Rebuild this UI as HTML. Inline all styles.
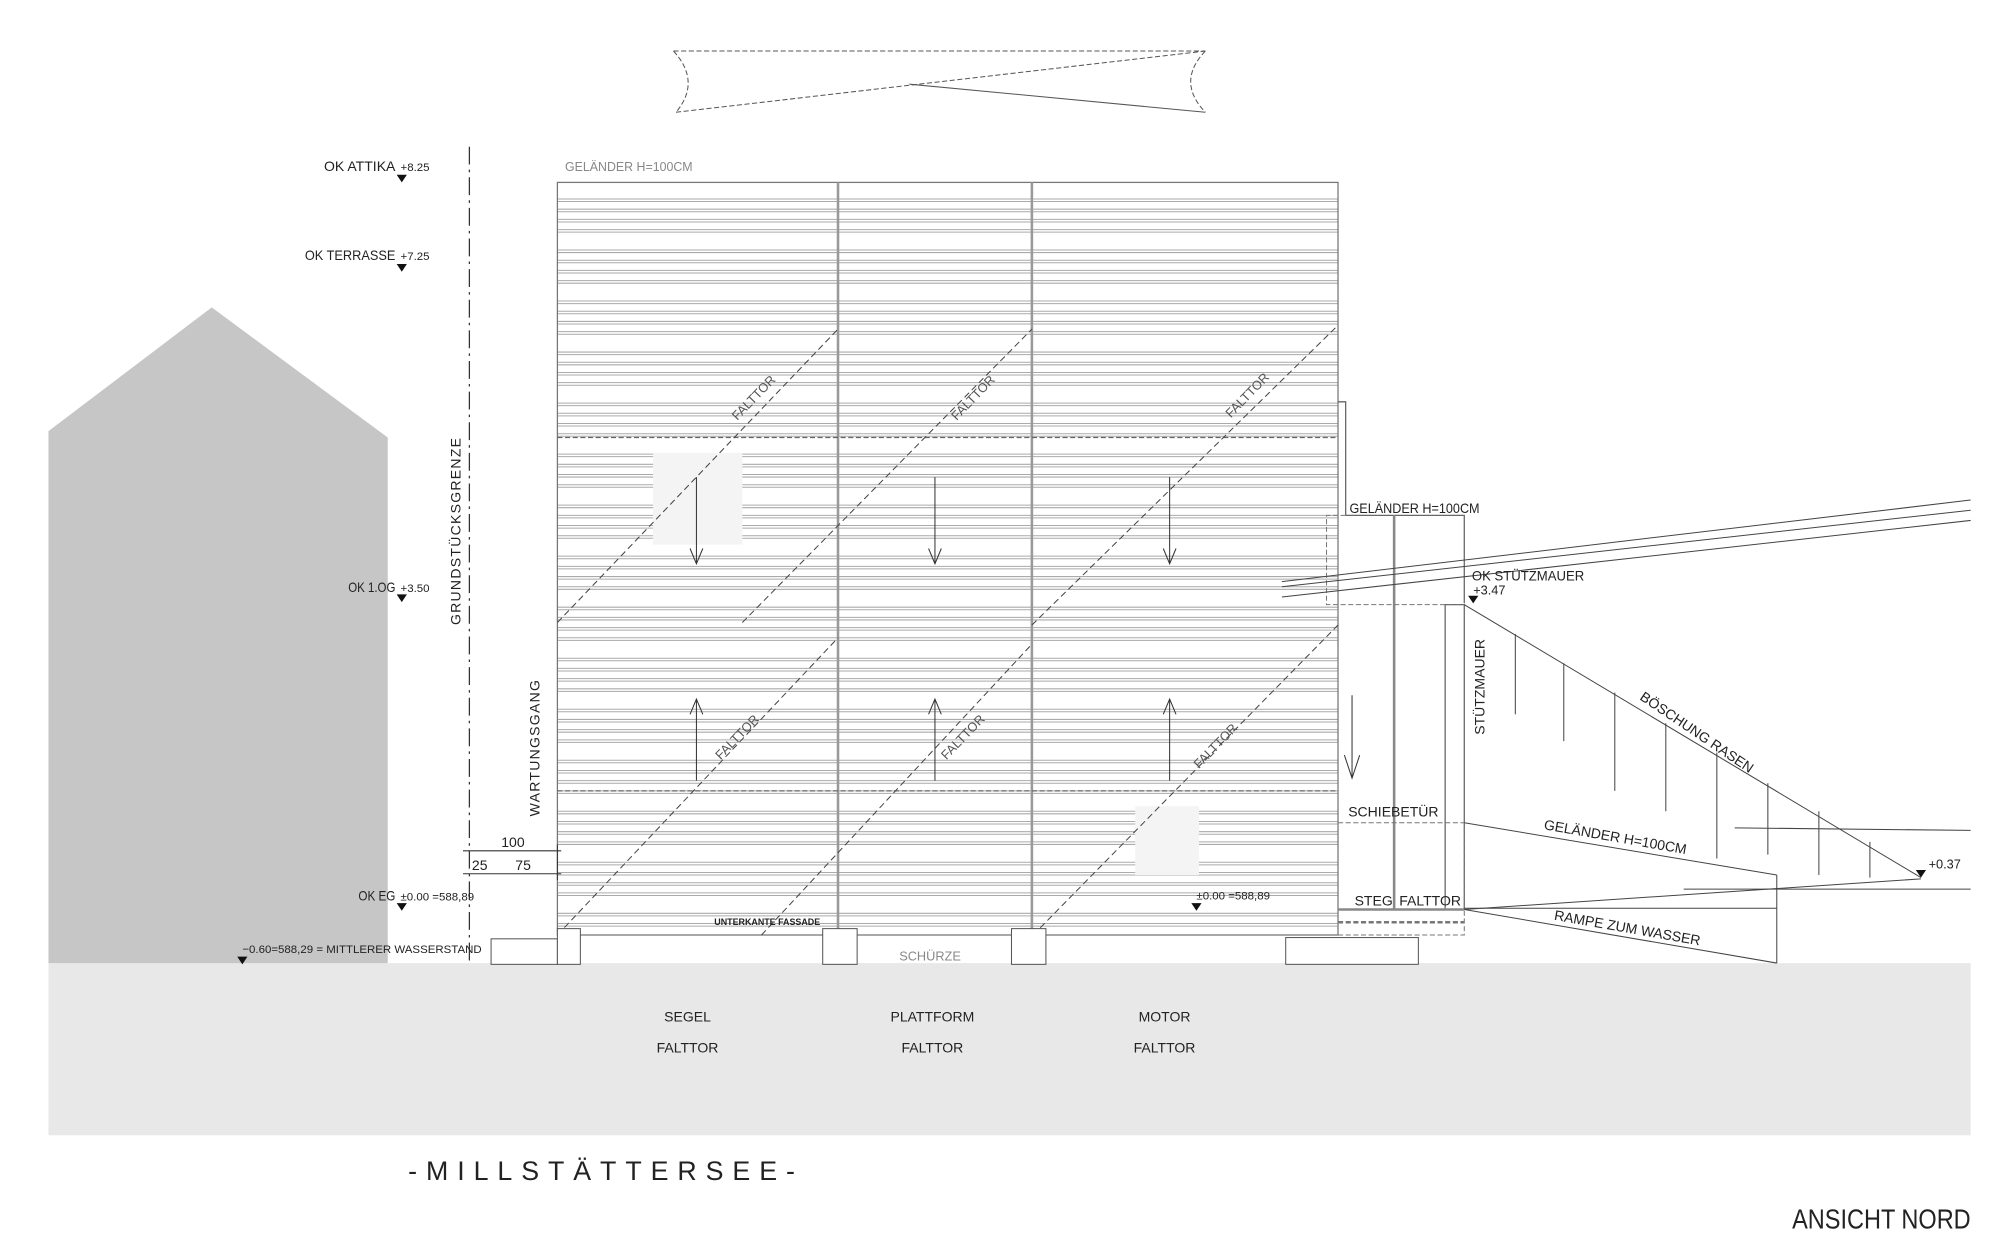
<!DOCTYPE html>
<html><head><meta charset="utf-8"><style>
html,body{margin:0;padding:0;background:#fff}
svg{display:block}
text{font-family:"Liberation Sans Narrow","Liberation Sans",sans-serif;fill:#222}
</style></head><body>
<svg id="s" width="2000" height="1259" viewBox="0 0 1568 987" preserveAspectRatio="none" xmlns="http://www.w3.org/2000/svg">
<rect width="1568" height="987" fill="#fff"/>
<rect x="38" y="755" width="1507" height="135" fill="#e8e8e8"/>
<polygon points="38,338 166,241 304,343 304,755 38,755" fill="#c6c6c6"/>
<line x1="368" y1="115" x2="368" y2="755" stroke="#333" stroke-width="1" stroke-dasharray="14,4,2,4"/>
<text x="361" y="490" font-size="11" transform="rotate(-90 361 490)" letter-spacing="1">GRUNDSTÜCKSGRENZE</text>
<text x="423" y="640" font-size="11" transform="rotate(-90 423 640)" letter-spacing="1">WARTUNGSGANG</text>

<g fill="none" stroke="#555" stroke-width="0.8" stroke-dasharray="4,2">
<line x1="528" y1="40" x2="945" y2="40"/>
<line x1="530" y1="88" x2="945" y2="40"/>
<path d="M528,40 Q550,64 530,88"/>
<path d="M945,40 Q922,64 945,88"/>
</g>
<line x1="713" y1="66" x2="945" y2="88" stroke="#555" stroke-width="0.8"/>

<text x="443" y="134" font-size="10" textLength="100" lengthAdjust="spacingAndGlyphs" style="fill:#888">GELÄNDER H=100CM</text>

<g id="fac"></g>
<rect x="437" y="143" width="612" height="590" fill="none" stroke="#777" stroke-width="1"/>
<line x1="657" y1="143" x2="657" y2="733" stroke="#999" stroke-width="2"/>
<line x1="809" y1="143" x2="809" y2="733" stroke="#999" stroke-width="2"/>
<line x1="437" y1="343" x2="1049" y2="343" stroke="#666" stroke-dasharray="4,2"/>
<line x1="437" y1="620" x2="1049" y2="620" stroke="#666" stroke-dasharray="4,2"/>
<rect x="512" y="355" width="70" height="72" fill="#f4f4f4"/>
<rect x="890" y="632" width="50" height="54" fill="#f4f4f4"/>

<g stroke="#444" stroke-width="0.8" stroke-dasharray="5,3" fill="none">
<line x1="437" y1="488" x2="657" y2="258"/>
<line x1="582" y1="488" x2="809" y2="258"/>
<line x1="809" y1="490" x2="1049" y2="255"/>
<line x1="437" y1="733" x2="657" y2="500"/>
<line x1="597" y1="733" x2="809" y2="505"/>
<line x1="810" y1="733" x2="1049" y2="490"/>
</g>
<g font-size="10">
<text x="578" y="330" transform="rotate(-46 578 330)" style="fill:#555">FALTTOR</text>
<text x="750" y="330" transform="rotate(-46 750 330)" style="fill:#555">FALTTOR</text>
<text x="965" y="328" transform="rotate(-46 965 328)" style="fill:#555">FALTTOR</text>
<text x="565" y="596" transform="rotate(-46 565 596)" style="fill:#555">FALTTOR</text>
<text x="742" y="596" transform="rotate(-46 742 596)" style="fill:#555">FALTTOR</text>
<text x="940" y="603" transform="rotate(-46 940 603)" style="fill:#555">FALTTOR</text>
</g>
<g stroke="#333" stroke-width="0.8" fill="none">
<path d="M546,374V442M541,430L546,442L551,430"/>
<path d="M733,374V442M728,430L733,442L738,430"/>
<path d="M917,374V442M912,430L917,442L922,430"/>
<path d="M546,612V548M541,560L546,548L551,560"/>
<path d="M733,612V548M728,560L733,548L738,560"/>
<path d="M917,612V548M912,560L917,548L922,560"/>
<path d="M1060,545V610M1054,592L1060,610L1066,592"/>
</g>

<g fill="#fff" stroke="#555" stroke-width="0.8">
<rect x="385" y="736" width="52" height="20"/>
<rect x="437" y="728" width="18" height="28"/>
<rect x="645" y="728" width="27" height="28"/>
<rect x="793" y="728" width="27" height="28"/>
<rect x="1008" y="735" width="104" height="21"/>
</g>
<text x="705" y="753" font-size="10" style="fill:#888">SCHÜRZE</text>
<text x="560" y="725" font-size="7" font-weight="bold">UNTERKANTE FASSADE</text>

<g stroke="#333" stroke-width="0.8">
<line x1="363" y1="667" x2="440" y2="667"/>
<line x1="363" y1="685" x2="440" y2="685"/>
<line x1="437" y1="662" x2="437" y2="690"/>
</g>
<text x="393" y="664" font-size="11">100</text>
<text x="370" y="682" font-size="11">25</text>
<text x="404" y="682" font-size="11">75</text>

<g font-size="11">
<text x="254" y="134" textLength="56" lengthAdjust="spacingAndGlyphs">OK ATTIKA</text><text x="314" y="134" font-size="9">+8.25</text>
<text x="239" y="204" textLength="71" lengthAdjust="spacingAndGlyphs">OK TERRASSE</text><text x="314" y="204" font-size="9">+7.25</text>
<text x="273" y="464" textLength="37" lengthAdjust="spacingAndGlyphs">OK 1.OG</text><text x="314" y="464" font-size="9">+3.50</text>
<text x="281" y="706" textLength="29" lengthAdjust="spacingAndGlyphs">OK EG</text><text x="314" y="706" font-size="9">±0.00 =588,89</text>
<text x="190" y="747" font-size="9">−0.60=588,29 = MITTLERER WASSERSTAND</text>
<text x="938" y="705" font-size="9">±0.00 =588,89</text>
</g>
<g fill="#111">
<polygon points="311,137 319,137 315,143"/>
<polygon points="311,207 319,207 315,213"/>
<polygon points="311,466 319,466 315,472"/>
<polygon points="311,708 319,708 315,714"/>
<polygon points="186,750 194,750 190,756"/>
<polygon points="934,708 942,708 938,714"/>
<polygon points="1151,467 1159,467 1155,473"/>
<polygon points="1502,682 1510,682 1506,688"/>
</g>

<g fill="none" stroke="#666" stroke-width="1">
<path d="M1049,315H1055V404"/>
<path d="M1055,404H1148V473"/>
<line x1="1093" y1="404" x2="1093" y2="713" stroke-width="2" stroke="#888"/>
<path d="M1133,713V474H1148V713"/>
<line x1="1049" y1="713" x2="1148" y2="713" stroke-width="2" stroke="#888"/>
</g>
<g fill="none" stroke="#777" stroke-width="0.8" stroke-dasharray="4,2">
<path d="M1055,404H1040V474H1148"/>
<path d="M1049,645H1148V733H1049"/>
<line x1="1049" y1="723" x2="1148" y2="723" stroke-width="2"/>
</g>
<g fill="none" stroke="#444" stroke-width="0.8">
<line x1="1005" y1="456" x2="1545" y2="392"/>
<line x1="1005" y1="460" x2="1545" y2="400"/>
<line x1="1005" y1="468" x2="1545" y2="408"/>
<line x1="1148" y1="474" x2="1506" y2="688"/>
<line x1="1148" y1="645" x2="1393" y2="686"/>
<line x1="1393" y1="686" x2="1393" y2="755"/>
<line x1="1148" y1="713" x2="1393" y2="755"/>
<line x1="1148" y1="713" x2="1506" y2="689"/>
<line x1="1148" y1="712" x2="1393" y2="712"/>
<line x1="1320" y1="697" x2="1545" y2="697"/>
<line x1="1360" y1="649" x2="1545" y2="651"/>
<line x1="1188" y1="497" x2="1188" y2="560"/>
<line x1="1226" y1="520" x2="1226" y2="581"/>
<line x1="1266" y1="543" x2="1266" y2="620"/>
<line x1="1306" y1="567" x2="1306" y2="636"/>
<line x1="1346" y1="590" x2="1346" y2="673"/>
<line x1="1386" y1="614" x2="1386" y2="670"/>
<line x1="1426" y1="636" x2="1426" y2="686"/>
<line x1="1466" y1="660" x2="1466" y2="688"/>
</g>
<g font-size="11">
<text x="1058" y="402" textLength="102" lengthAdjust="spacingAndGlyphs">GELÄNDER H=100CM</text>
<text x="1154" y="455" textLength="88" lengthAdjust="spacingAndGlyphs">OK STÜTZMAUER</text>
<text x="1155" y="466" font-size="10">+3.47</text>
<text x="1164" y="576" transform="rotate(-90 1164 576)">STÜTZMAUER</text>
<text x="1285" y="548" transform="rotate(34 1285 548)">BÖSCHUNG RASEN</text>
<text x="1210" y="650" transform="rotate(10 1210 650)">GELÄNDER H=100CM</text>
<text x="1218" y="721" transform="rotate(10 1218 721)">RAMPE ZUM WASSER</text>
<text x="1057" y="640">SCHIEBETÜR</text>
<text x="1062" y="710">STEG</text>
<text x="1097" y="710">FALTTOR</text>
<text x="1512" y="681" font-size="10">+0.37</text>
</g>

<g font-size="11" text-anchor="middle">
<text x="539" y="801">SEGEL</text><text x="539" y="825">FALTTOR</text>
<text x="731" y="801">PLATTFORM</text><text x="731" y="825">FALTTOR</text>
<text x="913" y="801">MOTOR</text><text x="913" y="825">FALTTOR</text>
</g>
<text x="320" y="925" font-size="21" letter-spacing="7">-MILLSTÄTTERSEE-</text>
<text x="1405" y="963" font-size="22" textLength="140" lengthAdjust="spacingAndGlyphs">ANSICHT NORD</text>
</svg>
<script>
(function(){
var g=document.getElementById('fac'),h="";
var y=156,k=0;
while(y<728){
 h+='<line x1="437" y1="'+y+'" x2="1049" y2="'+y+'" stroke="#aaa" stroke-width="0.8"/>';
 h+='<line x1="437" y1="'+(y+2)+'" x2="1049" y2="'+(y+2)+'" stroke="#aaa" stroke-width="0.8"/>';
 k++;
 y+= (k%4==0)?16:8;
}
g.innerHTML=h;
})();
</script>
</body></html>
